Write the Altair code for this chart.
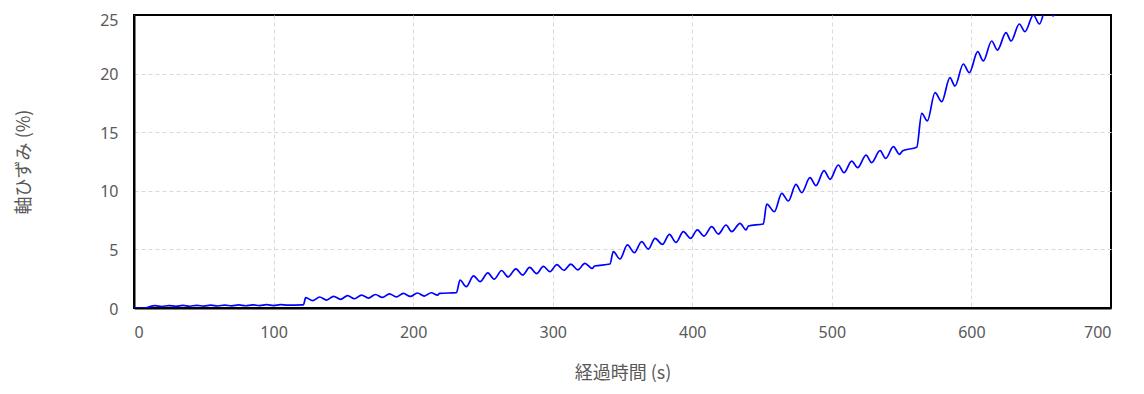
import altair as alt
import pandas as pd

# elapsed time (s)
time_s = [
    0, 8, 11, 15, 20, 25, 30, 35, 40, 45, 50, 55, 60, 65, 70, 75, 80, 85, 90, 95,
    100, 105, 110, 120.5,
    121.5, 123, 128, 133, 138, 143, 148, 153, 158, 163, 168, 173, 178, 183, 188,
    193, 198, 203, 208, 213, 217.5, 219, 231,
    233.6, 238, 243.3, 248, 253.5, 258, 263.4, 268, 273.6, 278.5, 283.5, 288.5,
    293.3, 298, 303, 308, 313, 318, 323, 328.3, 330, 341,
    343.4, 348.2, 353.5, 358.5, 363.7, 368.5, 373.3, 378.6, 383.6, 388.3, 393.6,
    398.8, 403.6, 408.4, 413.9, 418.7, 424.2, 428.2, 434.2, 438.5, 440.2, 450.9,
    453.3, 458.8, 464.1, 468.8, 474.3, 478.4, 484.3, 488.6, 494.4, 498.7, 504.6,
    508.7, 514.2, 518.5, 524.5, 528.5, 534.5, 538.6, 544.1, 548.4, 550.8, 560.8,
    564.4, 568.4, 573.9, 578.7, 584.6, 588.2, 594.2, 598.5, 604.5, 608.5, 614.5,
    618.6, 624.8, 628.4, 634.3, 638.4, 644.4, 648.7, 654, 658.5, 660,
]

# axial strain (%)
strain = [
    0.0, 0.0, 0.1, 0.2, 0.13, 0.21, 0.14, 0.22, 0.15, 0.23, 0.16, 0.24, 0.17, 0.25,
    0.18, 0.26, 0.19, 0.27, 0.2, 0.28, 0.21, 0.29, 0.24, 0.26,
    0.3, 0.88, 0.63, 0.94, 0.68, 1.0, 0.74, 1.05, 0.79, 1.1, 0.85, 1.15, 0.9, 1.2,
    0.95, 1.24, 0.99, 1.28, 1.02, 1.3, 1.1, 1.25, 1.31,
    2.39, 1.82, 2.74, 2.25, 2.99, 2.46, 3.2, 2.65, 3.34, 2.82, 3.46, 2.93, 3.55,
    3.1, 3.7, 3.22, 3.74, 3.25, 3.81, 3.37, 3.58, 3.75,
    4.81, 4.18, 5.38, 4.72, 5.66, 5.03, 5.94, 5.43, 6.29, 5.6, 6.51, 5.94, 6.66,
    6.14, 6.94, 6.31, 7.08, 6.51, 7.22, 6.66, 7.0, 7.17,
    8.87, 8.22, 9.78, 9.13, 10.55, 9.84, 11.12, 10.44, 11.72, 10.98, 12.2, 11.55,
    12.54, 11.97, 13.05, 12.4, 13.42, 12.77, 13.77, 13.11, 13.42, 13.71,
    16.61, 15.96, 18.37, 17.6, 19.65, 18.94, 20.82, 20.08, 21.87, 21.08, 22.78,
    22.01, 23.49, 22.78, 24.23, 23.58, 25.0, 24.23, 25.8, 24.93, 25.1,
]

x_ticks = [0, 100, 200, 300, 400, 500, 600, 700]
y_ticks = [0, 5, 10, 15, 20, 25]

df = pd.DataFrame({"t": time_s, "e": strain})

GREY = "#595959"
GRID = "#d9d9d9"
LABEL_FONT = "Noto Sans"
TITLE_FONT = "Noto Sans CJK JP"

chart = (
    alt.Chart(df)
    .mark_line(color="#0000ff", strokeWidth=1.7, interpolate="monotone", clip=True)
    .encode(
        x=alt.X(
            "t:Q",
            scale=alt.Scale(domain=[0, 700], nice=False, zero=False),
            axis=alt.Axis(
                title="経過時間 (s)",
                values=x_ticks,
                format="d",
                ticks=False,
                labelPadding=16,
                gridColor={
                    "condition": {"test": "datum.value >= 700", "value": "transparent"},
                    "value": GRID,
                },
                titleFont=TITLE_FONT,
                titleFontSize=18,
                titleFontWeight="normal",
                titleColor=GREY,
                titleBaseline="middle",
                titleY=65,
            ),
        ),
        y=alt.Y(
            "e:Q",
            scale=alt.Scale(domain=[0, 25], nice=False, zero=False),
            axis=alt.Axis(
                title="軸ひずみ (%)",
                values=y_ticks,
                format="d",
                ticks=False,
                labelPadding=16,
                labelOffset={
                    "condition": {"test": "datum.value >= 25", "value": 5},
                    "value": 1,
                },
                gridColor={
                    "condition": {"test": "datum.value >= 25", "value": "transparent"},
                    "value": GRID,
                },
                titleFont=TITLE_FONT,
                titleFontSize=18,
                titleFontWeight="normal",
                titleColor=GREY,
                titleX=-101,
            ),
        ),
    )
    .properties(
        width=977,
        height=293,
        autosize=alt.AutoSizeParams(type="none"),
        padding={"left": 126, "top": 7, "right": 20, "bottom": 80},
    )
    .configure_axis(
        labelFont=LABEL_FONT,
        labelFontSize=16,
        labelColor=GREY,
        domainColor="black",
        domainWidth=2,
        grid=True,
        gridDash=[4, 3],
        gridWidth=1,
    )
    .configure_view(stroke="black", strokeWidth=2)
)

chart.save("out.html", embed_options={"renderer": "svg", "actions": False})
